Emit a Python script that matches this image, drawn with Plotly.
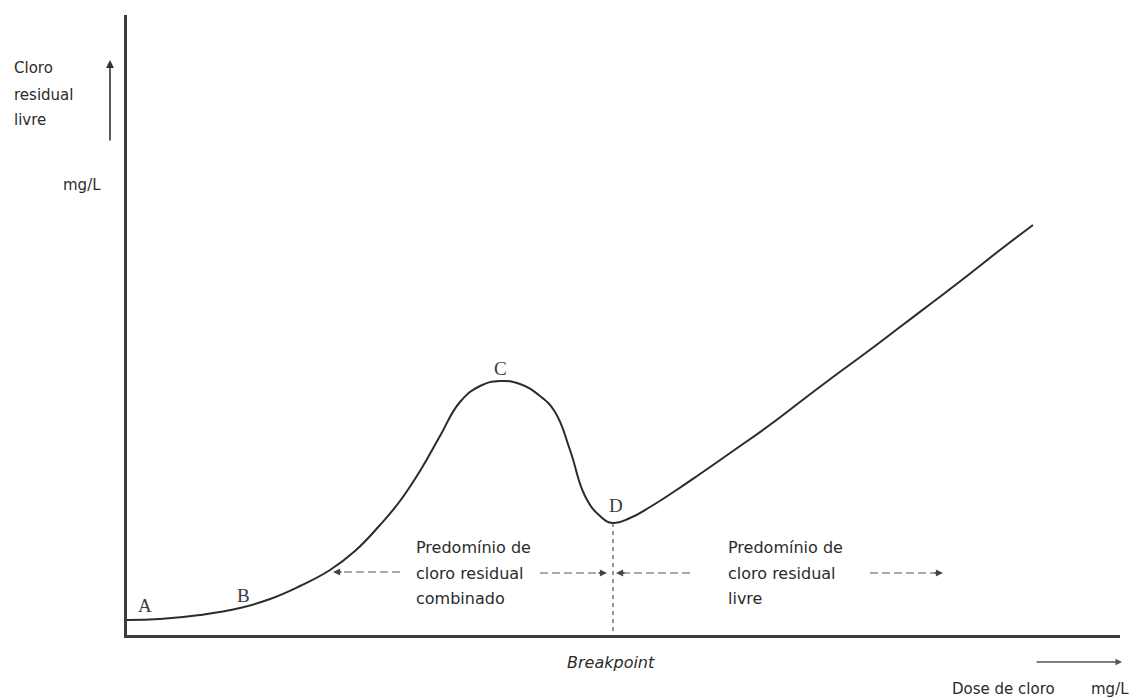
import numpy as np
import plotly.graph_objects as go

# ---------------- data ----------------
dose = [0.00, 0.33, 0.73, 1.13, 1.43, 1.73, 2.03, 2.28, 2.53, 2.73,
        2.93, 3.13, 3.33, 3.53, 3.73, 3.93, 4.13, 4.28, 4.43, 4.58,
        4.73, 4.86, 5.03, 5.23, 5.48, 5.73, 6.06, 6.40, 6.73, 7.06,
        7.40, 7.73, 8.06, 8.40, 8.73, 9.06]
residual = [0.15, 0.16, 0.20, 0.27, 0.36, 0.49, 0.65, 0.84, 1.10, 1.34,
            1.64, 1.99, 2.33, 2.49, 2.54, 2.51, 2.39, 2.23, 1.85, 1.39,
            1.19, 1.12, 1.17, 1.28, 1.44, 1.61, 1.84, 2.08, 2.33, 2.58,
            2.83, 3.08, 3.33, 3.59, 3.85, 4.10]
point_labels = ["A", "B", "C", "D"]
point_label_x = [0.18, 1.16, 3.73, 4.89]
point_label_y = [0.30, 0.40, 2.67, 1.30]

region_left = ["Predomínio de", "cloro residual", "combinado"]
region_right = ["Predomínio de", "cloro residual", "livre"]
y_title_lines = ["Cloro", "residual", "livre"]
y_unit = "mg/L"
x_title = "Dose de cloro"
x_unit = "mg/L"
breakpoint_label = "Breakpoint"

# ---------------- layout geometry ----------------
# the page body has an 8px margin, so the figure is placed 8px in from the window corner
OFF = 8
PAGE_W, PAGE_H = 1138, 698
FW, FH = PAGE_W - OFF, PAGE_H - OFF
AX_X, AX_Y = 127, 635          # window pixels of the axes corner
RIGHT_PX, TOP_PX = 1120, 15    # window pixels of plot right / top
L = AX_X - OFF
T = TOP_PX - OFF
R = PAGE_W - RIGHT_PX
B = PAGE_H - AX_Y
W, H = RIGHT_PX - AX_X, AX_Y - TOP_PX
XR = [0, W / 100.0]
YR = [0, H / 100.0]

def pxx(px):  # window pixel x -> paper
    return (px - AX_X) / W

def pxy(py):  # window pixel y -> paper
    return (AX_Y - py) / H

def dx(px):  # window pixel x -> data
    return (px - AX_X) / 100.0

def dy(py):
    return (AX_Y - py) / 100.0

INK = "#2b2b2b"
GREY = "#555555"
SANS = "DejaVu Sans"
SERIF = "Liberation Serif"

fig = go.Figure()

# main curve
fig.add_trace(go.Scatter(x=dose, y=residual, mode="lines",
                         line=dict(color=INK, width=2, shape="spline", smoothing=1.3),
                         hoverinfo="skip"))

# breakpoint = the local minimum of the curve
arr = np.array(residual)
mins = [i for i in range(1, len(arr) - 1) if arr[i] < arr[i - 1] and arr[i] < arr[i + 1]]
imin = mins[0]
xb, yb = dose[imin], residual[imin]
fig.add_trace(go.Scatter(x=[xb, xb], y=[yb, 0], mode="lines",
                         line=dict(color=GREY, width=1.2, dash="4px,4px"),
                         hoverinfo="skip"))

annotations = []
shapes = []

# point letters
for t, x, y in zip(point_labels, point_label_x, point_label_y):
    annotations.append(dict(x=x, y=y, xref="x", yref="y", text=t, showarrow=False,
                            font=dict(family=SERIF, size=19, color="#3a3a3a")))

# region texts
rows_py = [547, 573, 598]
for txt, py in zip(region_left, rows_py):
    annotations.append(dict(x=dx(414), y=dy(py), xref="x", yref="y", text=txt,
                            showarrow=False, xanchor="left", yanchor="middle",
                            font=dict(family=SANS, size=16, color=INK)))
for txt, py in zip(region_right, rows_py):
    annotations.append(dict(x=dx(726), y=dy(py), xref="x", yref="y", text=txt,
                            showarrow=False, xanchor="left", yanchor="middle",
                            font=dict(family=SANS, size=16, color=INK)))

# dashed arrows
def dashed_arrow(x_tail_px, x_head_px, py):
    sgn = 1 if x_head_px > x_tail_px else -1
    shapes.append(dict(type="line", xref="x", yref="y",
                       x0=dx(x_tail_px), x1=dx(x_head_px - sgn * 4), y0=dy(py), y1=dy(py),
                       line=dict(color=GREY, width=1.2, dash="8px,4px")))
    annotations.append(dict(x=dx(x_head_px), y=dy(py), xref="x", yref="y",
                            ax=dx(x_head_px - sgn * 10), ay=dy(py), axref="x", ayref="y",
                            text="", showarrow=True, arrowhead=2, arrowsize=1.1,
                            arrowwidth=1.3, arrowcolor="#444"))

dashed_arrow(400, 333, 572)
dashed_arrow(540, 607, 573)
dashed_arrow(690, 616, 573)
dashed_arrow(870, 943, 573)

# y-axis title
for txt, py in zip(y_title_lines, [68, 95, 120]):
    annotations.append(dict(x=pxx(12), y=pxy(py), xref="paper", yref="paper", text=txt,
                            showarrow=False, xanchor="left", yanchor="middle",
                            font=dict(family=SANS, size=15, color=INK)))
annotations.append(dict(x=pxx(103), y=pxy(185), xref="paper", yref="paper", text=y_unit,
                        showarrow=False, xanchor="right", yanchor="middle",
                        font=dict(family=SANS, size=15, color=INK)))
# y-axis arrow
annotations.append(dict(x=pxx(110), y=pxy(60), xref="paper", yref="paper",
                        ax=0, ay=82, text="", showarrow=True, arrowhead=2,
                        arrowsize=1, arrowwidth=1.6, arrowcolor="#333"))

# x-axis titles
annotations.append(dict(x=pxx(611), y=pxy(662), xref="paper", yref="paper",
                        text="<i>" + breakpoint_label + "</i>", showarrow=False,
                        xanchor="center", yanchor="middle",
                        font=dict(family=SANS, size=16, color=INK)))
annotations.append(dict(x=pxx(1057), y=pxy(689), xref="paper", yref="paper", text=x_title,
                        showarrow=False, xanchor="right", yanchor="middle",
                        font=dict(family=SANS, size=15, color=INK)))
annotations.append(dict(x=pxx(1131), y=pxy(689), xref="paper", yref="paper", text=x_unit,
                        showarrow=False, xanchor="right", yanchor="middle",
                        font=dict(family=SANS, size=15, color=INK)))
annotations.append(dict(x=pxx(1122), y=pxy(662), xref="paper", yref="paper",
                        ax=-87, ay=0, text="", showarrow=True, arrowhead=2,
                        arrowsize=1, arrowwidth=1.3, arrowcolor="#555"))

axis_common = dict(showline=True, linecolor="#3c3c3c", linewidth=2.5, showticklabels=False,
                   ticks="", showgrid=False, zeroline=False, fixedrange=True)

fig.update_layout(
    width=FW, height=FH,
    margin=dict(l=L, r=R, t=T, b=B),
    plot_bgcolor="white", paper_bgcolor="white",
    showlegend=False,
    xaxis=dict(range=XR, **axis_common),
    yaxis=dict(range=YR, **axis_common),
    annotations=annotations,
    shapes=shapes,
)

fig.write_html("out.html")
